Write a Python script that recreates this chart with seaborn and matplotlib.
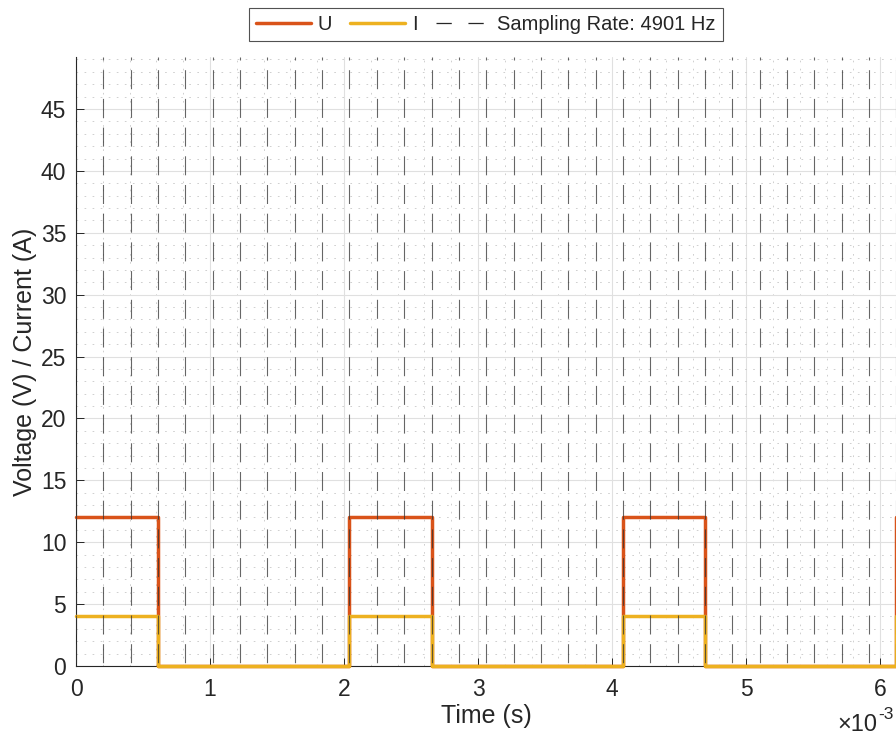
import numpy as np
import pandas as pd
import matplotlib
matplotlib.use("Agg")
import matplotlib.pyplot as plt
from matplotlib.ticker import MultipleLocator, FuncFormatter
from matplotlib.lines import Line2D
import seaborn as sns

# Sampled PWM signal (one value per sample)
SAMPLE_RATE = 4901  # Hz
U_VALUES = [12, 12, 12, 0, 0, 0, 0, 0, 0, 0,
            12, 12, 12, 0, 0, 0, 0, 0, 0, 0,
            12, 12, 12, 0, 0, 0, 0, 0, 0, 0,
            12]
I_VALUES = [4, 4, 4, 0, 0, 0, 0, 0, 0, 0,
            4, 4, 4, 0, 0, 0, 0, 0, 0, 0,
            4, 4, 4, 0, 0, 0, 0, 0, 0, 0,
            4]
SERIES = ["U", "I"]
COLORS = {"U": "#D95319", "I": "#EDB120"}
Y_MAX = 49.2

t = np.arange(len(U_VALUES)) / SAMPLE_RATE
df = pd.DataFrame({
    "t": np.concatenate([t, t]),
    "value": U_VALUES + I_VALUES,
    "signal": ["U"] * len(U_VALUES) + ["I"] * len(I_VALUES),
})

sns.set_style("white")
plt.rcParams["font.family"] = ["Liberation Sans", "DejaVu Sans"]
plt.rcParams["lines.scale_dashes"] = False

fig = plt.figure(figsize=(8.96, 7.36), dpi=100)
W, H = 896, 736
ax = fig.add_axes([76 / W, (H - 666) / H, 820.4 / W, 609 / H])

sns.lineplot(data=df, x="t", y="value", hue="signal", hue_order=SERIES,
             palette=COLORS, drawstyle="steps-post", linewidth=2.5,
             legend=False, ax=ax, zorder=3)
for ln in ax.get_lines():
    ln.set_clip_on(False)

ax.set_xlim(0, t[-1])
ax.set_ylim(0, Y_MAX)

# sampling instants
gap_pattern = (19 * 0.72, 9.7 * 0.72)
for k in range(len(t)):
    ax.plot([t[k], t[k]], [Y_MAX, 0], color="#333333", lw=0.8, alpha=0.75,
            linestyle=(16 * 0.72, gap_pattern), zorder=4)

# grid
ax.xaxis.set_major_locator(MultipleLocator(1e-3))
ax.xaxis.set_minor_locator(MultipleLocator(0.2e-3))
ax.yaxis.set_major_locator(MultipleLocator(5))
ax.yaxis.set_minor_locator(MultipleLocator(1))
ax.grid(which="major", color="#e0e0e0", lw=0.8, linestyle="-", zorder=0)
ax.grid(which="minor", color="#c8c8c8", lw=0.6, linestyle=(0, (1.2, 4.6)), zorder=0)
ax.set_axisbelow(True)

ax.xaxis.set_major_formatter(FuncFormatter(lambda v, p: f"{v * 1e3:.0f}"))
ax.tick_params(which="major", direction="in", length=5.8, width=0.7,
               color="#262626", labelsize=16.5, labelcolor="#262626",
               bottom=True, left=True, top=False, right=False)
ax.tick_params(axis="x", pad=9)
ax.tick_params(axis="y", pad=7)
ax.tick_params(which="minor", length=0)

for side in ["top", "right"]:
    ax.spines[side].set_visible(False)
for side in ["left", "bottom"]:
    ax.spines[side].set_color("#262626")
    ax.spines[side].set_linewidth(0.8)

ax.set_xlabel("Time (s)", fontsize=18, color="#262626", labelpad=2)
ax.set_ylabel("Voltage (V) / Current (A)", fontsize=18, color="#262626", labelpad=3)

# exponent of the time axis
fig.text(837 / W, 5 / H, "\u00d710", fontsize=17, color="#262626",
         ha="left", va="baseline")
fig.text(878 / W, 17 / H, "-3", fontsize=12.5, color="#262626",
         ha="left", va="baseline")

handles = [
    Line2D([], [], color=COLORS["U"], lw=2.5),
    Line2D([], [], color=COLORS["I"], lw=2.5),
    Line2D([], [], color="#262626", lw=0.9, linestyle=(0, (11, 12))),
]
leg = fig.legend(handles, ["U", "I", f"Sampling Rate: {SAMPLE_RATE} Hz"],
                 loc="upper center", bbox_to_anchor=(486 / W, 1 - 8 / H),
                 ncol=3, fontsize=14.5, frameon=True, fancybox=False,
                 handlelength=2.7, handletextpad=0.35, columnspacing=0.9,
                 borderpad=0.35, borderaxespad=0)
leg.get_frame().set_edgecolor("#262626")
leg.get_frame().set_linewidth(0.8)
for txt in leg.get_texts():
    txt.set_color("#262626")

fig.savefig("out.png", dpi=100)
